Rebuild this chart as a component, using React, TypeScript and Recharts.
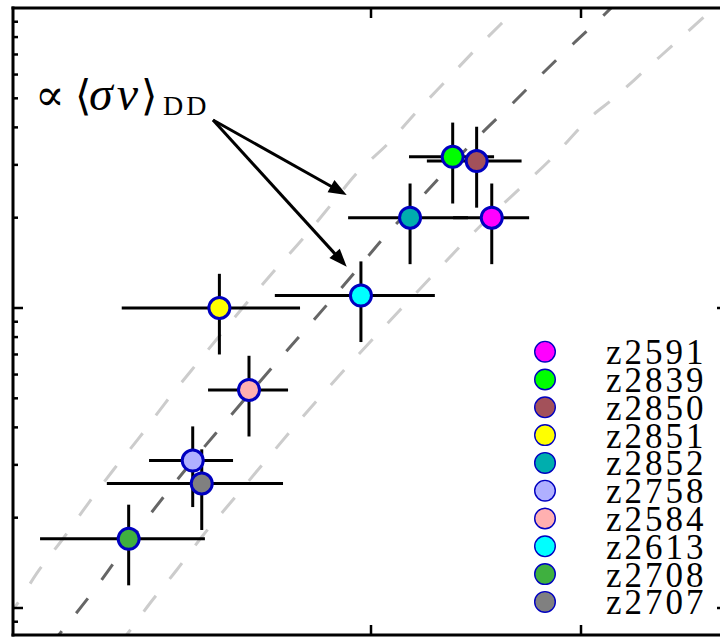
import React from "react";
import {
  ComposedChart, Scatter, Line, XAxis, YAxis, ErrorBar, ReferenceLine, ReferenceDot,
} from "recharts";

// shots, in legend / plotting order
const SHOTS = ["z2591", "z2839", "z2850", "z2851", "z2852", "z2758", "z2584", "z2613", "z2708", "z2707"];
const FILLS = ["#ff00ff", "#00ff00", "#a3515a", "#ffff00", "#00aeae", "#b0b0ff", "#ffb0b0", "#00ffff", "#3fb03f", "#808080"];
const TI = [2.575, 2.389, 2.503, 1.278, 2.186, 1.151, 1.419, 1.952, 0.846, 1.194];
const TI_ERR: [number, number][] = [
  [0.184, 0.178], [0.208, 0.197], [0.237, 0.214], [0.465, 0.384], [0.295, 0.276],
  [0.208, 0.192], [0.195, 0.186], [0.41, 0.352], [0.422, 0.363], [0.452, 0.387],
];
const YIELD = [20.0, 31.9, 30.9, 10.0, 20.0, 3.1, 5.33, 11.0, 1.7, 2.6];
const YIELD_ERR = [6.0, 9.6, 9.3, 3.0, 6.0, 0.93, 1.6, 3.3, 0.51, 0.78];

// <sigma v>_DD scaling, with the factor-of-two band either side
const MID_X = [0.471, 0.5048, 0.6857, 0.7952, 1.0571, 1.3143, 1.9319, 2.051, 2.249, 2.5271, 2.6762, 2.819, 2.9667, 3.1143, 3.186];
const MID_Y = [0.747, 0.8, 1.157, 1.479, 2.57, 4.233, 13.39, 16.85, 23.8, 38.23, 48.24, 60.73, 76.43, 95.5, 107.2];
const UP_X = [0.257, 0.3048, 0.4081, 0.5348, 0.6538, 0.7729, 0.9, 1.019, 1.1462, 1.5429, 1.67, 1.8048, 1.9319, 2.0824, 2.2176, 2.3524, 2.4952, 2.6938, 2.738];
const UP_Y = [0.933, 1.01, 1.305, 1.708, 2.234, 2.884, 3.724, 4.812, 6.215, 13.39, 16.85, 21.88, 28.12, 35.4, 45.11, 56.79, 72.44, 99.77, 107.2];
const LOW_X = [0.795, 0.8286, 0.9476, 1.0748, 1.2014, 1.3286, 1.7571, 2.1381, 2.281, 2.4157, 2.5824, 2.7095, 2.8524, 3.0571, 3.1462, 3.2952, 3.4476, 3.6224, 3.7];
const LOW_Y = [0.753, 0.802, 1.037, 1.339, 1.751, 2.234, 5.05, 9.847, 12.56, 15.81, 20.69, 25.06, 31.14, 43.99, 49.36, 61.19, 76.43, 98.47, 110];

const X_DOMAIN = [0.2952, 3.6952];
const Y_DOMAIN = [0.8128, 100];
const X_TICKS = [2, 3];
const Y_TICKS = [0.9, 1, 2, 3, 4, 5, 6, 7, 8, 9, 10, 20, 30, 40, 50, 60, 70, 80, 90];
const Y_MAJOR = [1, 10];

const EDGE = "#0000c0";
const SERIF = "'Liberation Serif', 'DejaVu Serif', serif";

const curve = (xs: number[], ys: number[]) => xs.map((x, i) => ({ x, y: ys[i] }));

const shots = SHOTS.map((name, i) => ({
  name,
  fill: FILLS[i],
  data: [{ x: TI[i], y: YIELD[i], xErr: TI_ERR[i], yErr: YIELD_ERR[i] }],
}));

// inward-pointing tick marks, matplotlib style
const tickMark = (side: "top" | "bottom" | "left" | "right") => (props: any) => {
  const { x, y, payload } = props;
  const len = side === "top" || side === "bottom" || Y_MAJOR.includes(payload.value) ? 10 : 5;
  const end = {
    top: [x, y + len], bottom: [x, y - len], left: [x + len, y], right: [x - len, y],
  }[side];
  return <line x1={x} y1={y} x2={end[0]} y2={end[1]} stroke="#000" strokeWidth={2.5} />;
};

const arrow = (props: any) => {
  const { x1, y1, x2, y2 } = props;
  const dx = x2 - x1;
  const dy = y2 - y1;
  const len = Math.hypot(dx, dy) || 1;
  const ux = dx / len;
  const uy = dy / len;
  const head = 18;
  const half = 7;
  const bx = x2 - ux * head;
  const by = y2 - uy * head;
  return (
    <g>
      <line x1={x1} y1={y1} x2={bx + ux * 2} y2={by + uy * 2} stroke="#000" strokeWidth={3} />
      <polygon
        points={`${x2},${y2} ${bx - uy * half},${by + ux * half} ${bx + uy * half},${by - ux * half}`}
        fill="#000"
      />
    </g>
  );
};

const annotation = (props: any) => {
  const { cx, cy } = props;
  return (
    <g fontFamily={SERIF} fill="#000">
      <text x={cx} y={cy} fontSize={44}>∝</text>
      <text x={cx + 40} y={cy} fontSize={42}>⟨</text>
      <text x={cx + 54} y={cy} fontSize={48} fontStyle="italic" letterSpacing={4}>σv</text>
      <text x={cx + 106} y={cy} fontSize={42}>⟩</text>
      <text x={cx + 128} y={cy + 5} fontSize={28} letterSpacing={3}>DD</text>
    </g>
  );
};

const marker = (fill: string) => (props: any) => (
  <circle cx={props.cx} cy={props.cy} r={10.5} fill={fill} stroke={EDGE} strokeWidth={3} />
);

const axisLine = { stroke: "#000", strokeWidth: 3, strokeLinecap: "square" as const };

export default function App() {
  return (
    <div style={{ position: "absolute", left: 0, top: 0, width: 720, height: 637, overflow: "hidden", background: "#fff" }}>
      <ComposedChart width={740} height={650} margin={{ top: 7, right: 12, bottom: 14, left: 12 }}>
        <XAxis
          dataKey="x" type="number" domain={X_DOMAIN} allowDataOverflow ticks={X_TICKS}
          height={1} tickSize={0} tickMargin={0} interval={0}
          axisLine={axisLine} tickLine={false} tick={tickMark("bottom")}
        />
        <XAxis
          xAxisId="top" orientation="top" dataKey="x" type="number" domain={X_DOMAIN} allowDataOverflow
          ticks={X_TICKS} height={1} tickSize={0} tickMargin={0} interval={0}
          axisLine={axisLine} tickLine={false} tick={tickMark("top")}
        />
        <YAxis
          dataKey="y" type="number" scale="log" domain={Y_DOMAIN} allowDataOverflow ticks={Y_TICKS}
          width={1} tickSize={0} tickMargin={0} interval={0}
          axisLine={axisLine} tickLine={false} tick={tickMark("left")}
        />
        <YAxis
          yAxisId="right" orientation="right" dataKey="y" type="number" scale="log" domain={Y_DOMAIN}
          allowDataOverflow ticks={Y_TICKS} width={1} tickSize={0} tickMargin={0} interval={0}
          axisLine={axisLine} tickLine={false} tick={tickMark("right")}
        />

        <Line data={curve(UP_X, UP_Y)} dataKey="y" type="monotone" stroke="#cccccc" strokeWidth={3}
          strokeDasharray="20 22" dot={false} isAnimationActive={false} />
        <Line data={curve(LOW_X, LOW_Y)} dataKey="y" type="monotone" stroke="#cccccc" strokeWidth={3}
          strokeDasharray="20 22" dot={false} isAnimationActive={false} />
        <Line data={curve(MID_X, MID_Y)} dataKey="y" type="monotone" stroke="#666666" strokeWidth={3}
          strokeDasharray="19 23" dot={false} isAnimationActive={false} />

        {shots.map((s) => (
          <Scatter key={s.name} name={s.name} data={s.data} shape={marker(s.fill)} isAnimationActive={false}>
            <ErrorBar dataKey="xErr" direction="x" width={0} stroke="#000" strokeWidth={3} />
            <ErrorBar dataKey="yErr" direction="y" width={0} stroke="#000" strokeWidth={3} />
          </Scatter>
        ))}

        <ReferenceLine segment={[{ x: 1.2476, y: 42.33 }, { x: 1.8843, y: 23.8 }]} shape={arrow} />
        <ReferenceLine segment={[{ x: 1.2476, y: 42.33 }, { x: 1.8843, y: 13.73 }]} shape={arrow} />
        <ReferenceDot x={0.4} y={45.7} shape={annotation} />
      </ComposedChart>

      <svg width={720} height={637} style={{ position: "absolute", left: 0, top: 0, pointerEvents: "none" }}>
        {SHOTS.map((name, i) => {
          const cy = 351.7 + i * 27.8;
          return (
            <g key={name}>
              <circle cx={545} cy={cy} r={10.3} fill={FILLS[i]} stroke={EDGE} strokeWidth={1.4} />
              <text x={606} y={cy + 12.5} fontFamily={SERIF} fontSize={35} letterSpacing={3} fill="#000">
                {name}
              </text>
            </g>
          );
        })}
      </svg>
    </div>
  );
}
